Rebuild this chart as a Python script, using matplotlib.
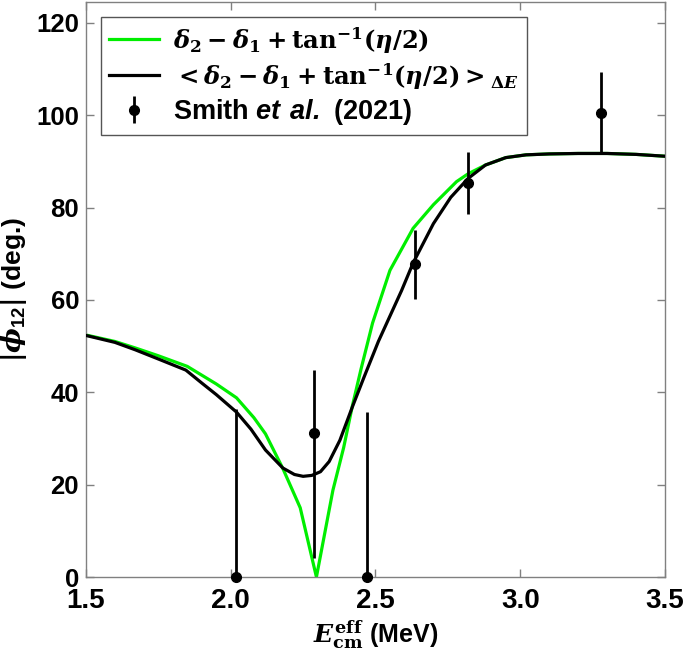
import matplotlib
matplotlib.use("Agg")
import matplotlib.pyplot as plt

plt.rcParams['mathtext.fontset'] = 'custom'
plt.rcParams['mathtext.rm'] = 'DejaVu Serif:bold'
plt.rcParams['mathtext.it'] = 'DejaVu Serif:italic:bold'
plt.rcParams['mathtext.bf'] = 'DejaVu Serif:bold'
plt.rcParams['mathtext.sf'] = 'Liberation Sans:italic:bold'
plt.rcParams['mathtext.tt'] = 'Liberation Sans'
plt.rcParams['font.family'] = ['Liberation Sans', 'DejaVu Sans']
plt.rcParams['font.weight'] = 'bold'

# Green curve: delta2 - delta1 + atan(eta/2)
green_x = [1.50, 1.60, 1.67, 1.75, 1.85, 1.95, 2.02, 2.08, 2.12, 2.18, 2.24, 2.296,
           2.353, 2.39, 2.42, 2.45, 2.49, 2.55, 2.63, 2.70, 2.78, 2.82, 2.88, 2.95,
           3.02, 3.10, 3.20, 3.30, 3.40, 3.50]
green_y = [52.4, 51.0, 49.6, 47.9, 45.6, 41.8, 38.8, 34.5, 31.0, 23.5, 15.0, 0.0,
           18.8, 28.0, 37.0, 45.0, 55.0, 66.4, 75.5, 80.6, 85.6, 87.3, 89.2, 90.8,
           91.4, 91.6, 91.7, 91.7, 91.5, 91.1]

# Black curve: energy-averaged
black_x = [1.50, 1.60, 1.67, 1.75, 1.845, 1.90, 1.95, 2.02, 2.07, 2.12, 2.18, 2.22,
           2.25, 2.28, 2.31, 2.34, 2.377, 2.42, 2.46, 2.51, 2.55, 2.59, 2.63, 2.70,
           2.76, 2.82, 2.88, 2.95, 3.02, 3.10, 3.20, 3.30, 3.40, 3.50]
black_y = [52.3, 50.8, 49.2, 47.2, 44.8, 42.0, 39.5, 35.7, 32.0, 27.5, 23.6, 22.2,
           21.8, 22.0, 22.8, 25.0, 29.6, 36.8, 43.2, 51.0, 56.5, 62.0, 68.0, 76.5,
           82.2, 86.3, 89.2, 90.8, 91.4, 91.6, 91.7, 91.7, 91.5, 91.1]

# Smith et al. (2021) data
data_x = [2.017, 2.289, 2.470, 2.636, 2.821, 3.279]
data_y = [0.0, 31.1, 0.0, 67.8, 85.3, 100.4]
err_lo = [0.0, 27.0, 0.0, 7.7, 6.8, 8.8]
err_hi = [36.3, 13.7, 35.7, 7.4, 6.7, 9.0]

fig = plt.figure(figsize=(6.85, 6.54), dpi=100)
ax = fig.add_axes([0.1255, 0.1177, 0.8453, 0.8793])

ax.plot(green_x, green_y, color='#00ee00', lw=2.3,
        label=r'$\delta_2-\delta_1+\mathrm{tan}^{-1}(\eta/2)$', zorder=2)
ax.plot(black_x, black_y, color='black', lw=2.3,
        label=r'$<\delta_2-\delta_1+\mathrm{tan}^{-1}(\eta/2)>_{\Delta E}$', zorder=3)
ax.errorbar(data_x, data_y, yerr=[err_lo, err_hi], fmt='o', color='black',
            ms=7, elinewidth=2.0, capsize=0, clip_on=False, zorder=4,
            label=r'Smith $\mathsf{et\ al.}$ (2021)')

ax.set_xlim(1.5, 3.5)
ax.set_ylim(0, 124.5)
ax.set_xticks([1.5, 2.0, 2.5, 3.0, 3.5])
ax.set_xticklabels(['1.5', '2.0', '2.5', '3.0', '3.5'])
ax.set_yticks([0, 20, 40, 60, 80, 100, 120])

for s in ax.spines.values():
    s.set_color('#808080')
    s.set_linewidth(1.0)
ax.tick_params(direction='in', length=6, width=1, color='#808080',
               top=True, right=True, pad=4)
ax.tick_params(axis='x', labelsize=20, pad=8)
ax.tick_params(axis='y', labelsize=18.5, pad=5)
for lab in ax.get_xticklabels() + ax.get_yticklabels():
    lab.set_fontweight('bold')

ax.set_xlabel(r'$E_{\mathrm{cm}}^{\mathrm{eff}}$ (MeV)', fontsize=18, fontweight='bold', labelpad=3)
ax.set_ylabel(r'$|\phi_{\mathtt{12}}|$ (deg.)', fontsize=19, fontweight='bold', labelpad=5)

leg = ax.legend(loc='upper left', frameon=True, fancybox=False,
                edgecolor='#555555', framealpha=1, handlelength=1.85,
                borderaxespad=0.55, borderpad=0.3, labelspacing=0.2, handletextpad=0.5,
                prop={'size': 19.5, 'weight': 'bold'})
leg.get_frame().set_linewidth(1.0)
texts = leg.get_texts()
texts[0].set_fontsize(17.5)
texts[1].set_fontsize(17.5)

fig.savefig('out.png', dpi=100)
